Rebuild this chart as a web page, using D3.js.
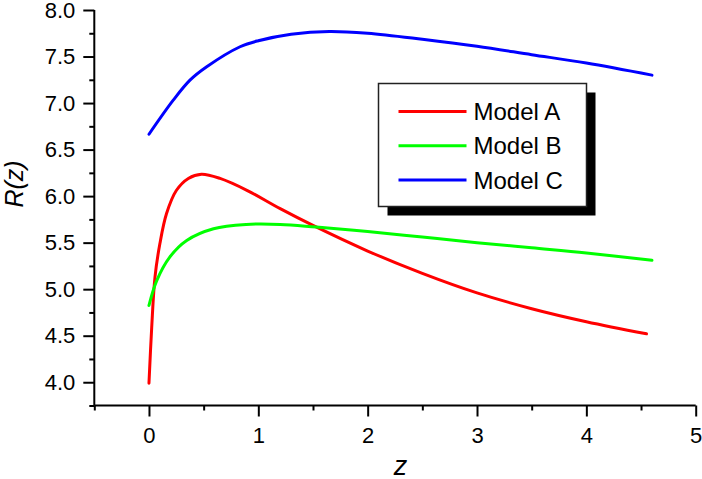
<!DOCTYPE html>
<html>
<head>
<meta charset="utf-8">
<script src="https://cdn.jsdelivr.net/npm/d3@7"></script>
<style>
  body { margin: 0; background: #fff; }
  svg { display: block; font-family: "Liberation Sans", Arial, sans-serif; }
</style>
</head>
<body>
<div id="d3"></div>
<script>
// values
const seriesNames = ["Model A", "Model B", "Model C"];
const seriesColors = ["#ff0000", "#00ff00", "#0000ff"];

const zModelA = [0, 0.025, 0.055, 0.1, 0.16, 0.25, 0.36, 0.48, 0.65, 0.9, 1.2, 1.5, 2.0, 2.5, 3.0, 3.5, 4.0, 4.55];
const rModelA = [3.99, 4.59, 5.13, 5.49, 5.81, 6.06, 6.19, 6.235, 6.19, 6.06, 5.865, 5.685, 5.41, 5.17, 4.96, 4.79, 4.65, 4.52];

const zModelB = [0, 0.07, 0.19, 0.345, 0.59, 0.89, 1.2, 1.53, 2.0, 2.5, 3.0, 3.5, 4.0, 4.6];
const rModelB = [4.825, 5.09, 5.345, 5.524, 5.65, 5.696, 5.696, 5.667, 5.62, 5.56, 5.50, 5.445, 5.39, 5.31];

const zModelC = [0, 0.222, 0.375, 0.528, 0.833, 1.0, 1.3, 1.65, 2.0, 2.5, 3.0, 3.5, 4.0, 4.6];
const rModelC = [6.665, 7.031, 7.246, 7.39, 7.605, 7.67, 7.74, 7.77, 7.75, 7.685, 7.61, 7.52, 7.43, 7.30];

const xTickLabels = [0, 1, 2, 3, 4, 5];
const yTickLabels = [4.0, 4.5, 5.0, 5.5, 6.0, 6.5, 7.0, 7.5, 8.0];

const settings = {
  width: 702,
  height: 479,
  left: 94.3,
  right: 695.7,
  top: 10,
  bottom: 405.5,
  axisWidth: 2,
  lineWidth: 3,
  majorTick: 11,
  minorTick: 5,
  tickFont: "22px",
  legendFont: "24px",
  titleFont: "25px",
};

function drawSVG() {
  const svg = d3
    .select("#d3")
    .append("svg")
    .attr("width", settings.width)
    .attr("height", settings.height);

  const x = d3.scaleLinear().domain([-0.5, 5]).range([settings.left, settings.right]);
  const y = d3.scaleLinear().domain([3.75, 8.0]).range([settings.bottom, settings.top]);

  // curves
  const data = [
    zModelA.map((z, i) => [z, rModelA[i]]),
    zModelB.map((z, i) => [z, rModelB[i]]),
    zModelC.map((z, i) => [z, rModelC[i]]),
  ];
  const line = d3.line()
    .x(d => x(d[0]))
    .y(d => y(d[1]))
    .curve(d3.curveCatmullRom.alpha(0.5));

  svg.append("g")
    .selectAll("path")
    .data(data)
    .join("path")
    .attr("d", line)
    .attr("fill", "none")
    .attr("stroke", (d, i) => seriesColors[i])
    .attr("stroke-width", settings.lineWidth)
    .attr("stroke-linecap", "round")
    .attr("stroke-linejoin", "round");

  // y axis
  const yAxis = svg.append("g")
    .attr("transform", `translate(${settings.left},0)`)
    .call(d3.axisLeft(y).tickValues(yTickLabels).tickSize(settings.majorTick).tickPadding(8).tickFormat(d3.format(".1f")));
  svg.append("g")
    .attr("transform", `translate(${settings.left},0)`)
    .call(d3.axisLeft(y).tickValues(d3.range(3.75, 8.0, 0.5)).tickSize(settings.minorTick).tickFormat(""))
    .select(".domain").remove();

  // x axis
  const xAxis = svg.append("g")
    .attr("transform", `translate(0,${settings.bottom})`)
    .call(d3.axisBottom(x).tickValues(xTickLabels).tickSize(settings.majorTick).tickPadding(11).tickFormat(d3.format("d")));
  svg.append("g")
    .attr("transform", `translate(0,${settings.bottom})`)
    .call(d3.axisBottom(x).tickValues([-0.5, 0.5, 1.5, 2.5, 3.5, 4.5]).tickSize(settings.minorTick).tickFormat(""))
    .select(".domain").remove();

  svg.selectAll(".tick line, .domain")
    .attr("stroke", "#000")
    .attr("stroke-width", settings.axisWidth);
  yAxis.select(".domain").attr("d", `M0,${settings.top}V${settings.bottom}`);
  xAxis.select(".domain").attr("d", `M${settings.left},0H${settings.right}`);
  svg.selectAll(".tick text")
    .attr("fill", "#000")
    .style("font-size", settings.tickFont)
    .style("font-family", "Liberation Sans, Arial, sans-serif");

  // axis titles
  svg.append("text")
    .attr("transform", "translate(23,184) rotate(-90)")
    .attr("text-anchor", "middle")
    .attr("font-size", settings.titleFont)
    .attr("font-style", "italic")
    .text("R(z)");

  svg.append("text")
    .attr("x", 400.5)
    .attr("y", 475)
    .attr("text-anchor", "middle")
    .attr("font-size", "27px")
    .attr("font-style", "italic")
    .text("z");

  // legend with drop shadow
  const legend = svg.append("g").attr("transform", "translate(378.5,83.5)");
  legend.append("rect")
    .attr("x", 9).attr("y", 9)
    .attr("width", 208).attr("height", 123)
    .attr("fill", "#000");
  legend.append("rect")
    .attr("width", 208).attr("height", 123)
    .attr("fill", "#fff")
    .attr("stroke", "#222")
    .attr("stroke-width", 1.5);

  const rows = legend.selectAll("g.row")
    .data(seriesNames)
    .join("g")
    .attr("class", "row")
    .attr("transform", (d, i) => `translate(0,${28 + i * 34.2})`);
  rows.append("line")
    .attr("x1", 20).attr("x2", 88)
    .attr("stroke", (d, i) => seriesColors[i])
    .attr("stroke-width", settings.lineWidth);
  rows.append("text")
    .attr("x", 95)
    .attr("dy", "0.36em")
    .attr("font-size", settings.legendFont)
    .text(d => d);
}

drawSVG();
</script>
</body>
</html>
